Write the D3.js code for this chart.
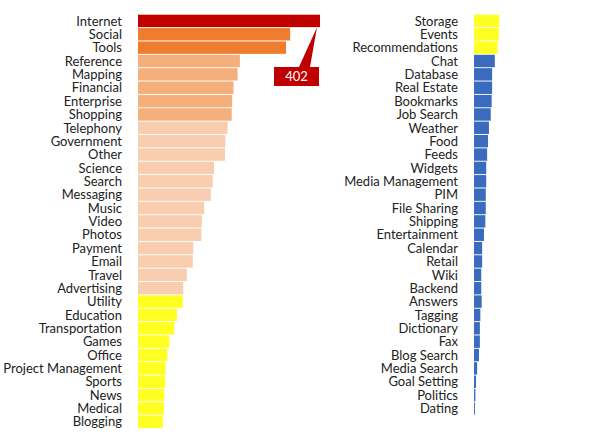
<!DOCTYPE html>
<meta charset="UTF-8">
<style>
body { margin: 0; background: #fff; }
.label { font: 13px Lato, sans-serif; fill: #222; }
.callout text { font: 13px Lato, sans-serif; fill: #fff; }
</style>
<body>
<script src="https://d3js.org/d3.v7.min.js"></script>
<script>

// categories, sorted by count, split over two columns
var leftNames = ["Internet", "Social", "Tools", "Reference", "Mapping", "Financial",
  "Enterprise", "Shopping", "Telephony", "Government", "Other", "Science", "Search",
  "Messaging", "Music", "Video", "Photos", "Payment", "Email", "Travel", "Advertising",
  "Utility", "Education", "Transportation", "Games", "Office", "Project Management",
  "Sports", "News", "Medical", "Blogging"];
var leftValues = [402, 336, 327, 225, 220, 211, 208, 207, 198, 193, 192, 168, 165,
  161, 146, 141, 140, 122, 121, 108, 100, 99, 86, 80, 69, 65, 61, 60, 58, 57, 55];

var rightNames = ["Storage", "Events", "Recommendations", "Chat", "Database",
  "Real Estate", "Bookmarks", "Job Search", "Weather", "Food", "Feeds", "Widgets",
  "Media Management", "PIM", "File Sharing", "Shipping", "Entertainment", "Calendar",
  "Retail", "Wiki", "Backend", "Answers", "Tagging", "Dictionary", "Fax",
  "Blog Search", "Media Search", "Goal Setting", "Politics", "Dating"];
var rightValues = [56, 55, 52, 46, 40, 40, 39, 37, 33, 31, 29, 27, 27, 26, 26, 25,
  22, 18, 18, 16, 16, 17, 14, 13, 13, 11, 7, 4.5, 3, 2];

var width = 590, height = 447;

var svg = d3.select("body").append("svg")
    .attr("width", width)
    .attr("height", height);

// shared value scale so both columns read the same
var x = d3.scaleLinear().domain([0, 402]).range([0, 182]);

// colour tiers by overall rank
var color = d3.scaleThreshold()
    .domain([1, 3, 8, 21, 34])
    .range(["#C00000", "#EF7D2F", "#F5AF7A", "#F9CDB0", "#FFFF22", "#3A6BBF"]);

var rowH = 40 / 3, topY = 14.7;

function column(names, values, x0, offset) {
  var y = d3.scaleBand()
      .domain(names)
      .range([topY, topY + names.length * rowH])
      .paddingInner(0.07);

  var g = svg.append("g").attr("transform", "translate(" + x0 + ",0)");

  g.selectAll("rect")
      .data(names)
    .enter().append("rect")
      .attr("x", 0)
      .attr("y", function(d) { return y(d); })
      .attr("height", y.bandwidth())
      .attr("width", function(d, i) { return x(values[i]); })
      .attr("fill", function(d, i) { return color(i + offset); });

  g.selectAll("text.label")
      .data(names)
    .enter().append("text")
      .attr("class", "label")
      .attr("x", -16)
      .attr("y", function(d) { return y(d) + y.bandwidth() / 2; })
      .attr("dy", "0.36em")
      .attr("text-anchor", "end")
      .text(function(d) { return d; });

  return y;
}

var yl = column(leftNames, leftValues, 138, 0);
column(rightNames, rightValues, 474, leftNames.length);

// callout for the largest bar
var tipX = 138 + x(leftValues[0]) - 3,
    tipY = yl(leftNames[0]) + yl.bandwidth(),
    bx = 274, by = 67, bw = 45, bh = 19;

var callout = svg.append("g").attr("class", "callout");
callout.append("path")
    .attr("d", "M" + bx + "," + by + "H" + (bx + 25) + "L" + tipX + "," + tipY +
               "L" + (bx + 36) + "," + by + "H" + (bx + bw) + "V" + (by + bh) +
               "H" + bx + "Z")
    .attr("fill", "#C00000");
callout.append("text")
    .attr("x", bx + bw / 2)
    .attr("y", by + bh / 2)
    .attr("dy", "0.36em")
    .attr("text-anchor", "middle")
    .text(leftValues[0]);

</script>
</body>
